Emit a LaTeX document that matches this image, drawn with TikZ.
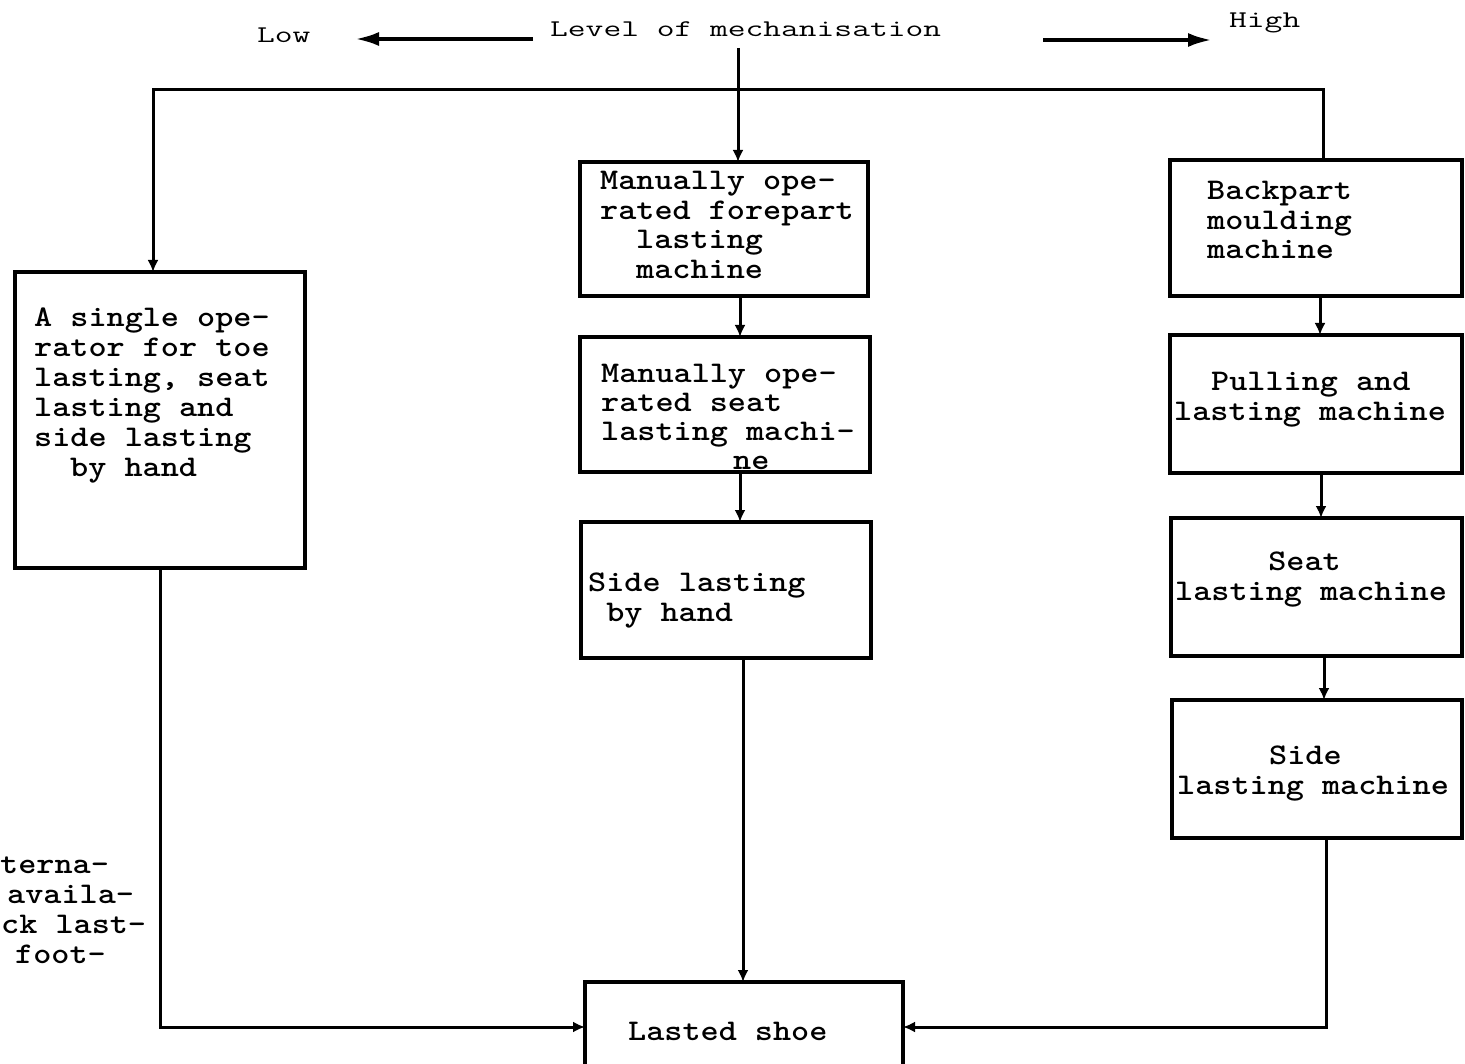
\documentclass[tikz,border=0pt]{standalone}
\usepackage{fontspec}
\usepackage{graphicx}
\usetikzlibrary{arrows.meta}
\newcommand{\ml}[2][30]{\scalebox{1.15}[1]{\fontsize{30}{#1}\selectfont\addfontfeature{FakeBold=1.2}\begin{tabular}[t]{@{}l@{}}#2\end{tabular}}}
\newcommand{\hd}[1]{\scalebox{1.15}[0.8]{\fontsize{30}{30}\selectfont\addfontfeature{FakeBold=1}#1}}
\newcommand{\ind}[1]{\hspace*{#1}}
\begin{document}
\begin{tikzpicture}[x=1pt,y=-1pt,
  box/.style={draw,line width=3.2pt,inner sep=0pt,outer sep=0pt},
  txt/.style={font=\ttfamily\bfseries,inner sep=0pt,anchor=base west},
  hdr/.style={font=\ttfamily,inner sep=0pt,anchor=base west},
  conn/.style={line width=3pt},
  arr/.style={conn,-{Latex[length=12pt,width=11pt]}},
  harr/.style={line width=4pt,-{Latex[length=24pt,width=14pt]}}]
\useasboundingbox (0,0) rectangle (1465,1064);
\clip (0,0) rectangle (1465,1064);

% header
\node[hdr] (low) at (257,43) {\hd{Low}};
\node[hdr] (lvl) at (550,37) {\hd{Level of mechanisation}};
\node[hdr] (high) at (1229,28) {\hd{High}};
\coordinate (la1) at (533,39);
\coordinate (la2) at (355,39);
\coordinate (ha1) at (1043,40);
\coordinate (ha2) at (1212,40);
\draw[harr] (la1) -- (la2);
\draw[harr] (ha1) -- (ha2);

% boxes
\node[box,minimum width=290pt,minimum height=296pt] (L) at (160,420) {};
\node[box,minimum width=288pt,minimum height=134pt] (M1) at (724,229) {};
\node[box,minimum width=290pt,minimum height=135pt] (M2) at (725,404.5) {};
\node[box,minimum width=290pt,minimum height=136pt] (M3) at (726,590) {};
\node[box,minimum width=318pt,minimum height=90pt] (B) at (744,1027) {};
\node[box,minimum width=292pt,minimum height=136pt] (R1) at (1316,228) {};
\node[box,minimum width=292pt,minimum height=138pt] (R2) at (1316,404) {};
\node[box,minimum width=291pt,minimum height=138pt] (R3) at (1316.5,587) {};
\node[box,minimum width=290pt,minimum height=138pt] (R4) at (1317,769) {};

% texts
\node[txt] (tL) at (34,327) {\ml{A single ope-\\rator for toe\\lasting, seat\\lasting and\\side lasting\\\ind{31.3pt}by hand}};
\node[txt] (tM1) at (600,190) {\ml[29.5]{Manually ope-\\rated forepart\\\ind{31.3pt}lasting\\\ind{31.3pt}machine}};
\node[txt] (tM2) at (601,383) {\ml[29]{Manually ope-\\rated seat\\lasting machi-\\\ind{114.8pt}ne}};
\node[txt] (tM3) at (588,591) {\ml{Side lasting\\\ind{15.7pt}by hand}};
\node[txt] (tB) at (628,1040) {\ml{Lasted shoe}};
\node[txt] (tR1) at (1207,200) {\ml[29.5]{Backpart\\moulding\\machine}};
\node[txt] (tR2) at (1174,391) {\ml{\ind{32.2pt}Pulling and\\lasting machine}};
\node[txt] (tR3) at (1175,570) {\ml{\ind{81pt}Seat\\lasting machine}};
\node[txt] (tR4) at (1177,764) {\ml{\ind{80pt}Side\\lasting machine}};

% cut-off note at the left edge
\node[txt] (n1) at (0,873) {\ml{terna-}};
\node[txt] (n2) at (7,903) {\ml{availa-}};
\node[txt] (n3) at (1,933) {\ml{ck last-}};
\node[txt] (n4) at (15,963) {\ml{foot-}};

% connectors
\coordinate (top) at (738,48);
\coordinate (hl) at (153,90);
\coordinate (hr) at (1323,90);
\coordinate (cm) at (740,0);
\coordinate (cmb) at (743,0);
\coordinate (cl) at (160,0);
\coordinate (cr1) at (1320,0);
\coordinate (cr2) at (1321,0);
\coordinate (cr3) at (1324,0);
\coordinate (cr4) at (1326,0);

\draw[arr] (top) -- (top |- M1.north);
\draw[arr] (hr |- R1.north) -- (hr) -- (hl) -- (hl |- L.north);
\draw[arr] (cm |- M1.south) -- (cm |- M2.north);
\draw[arr] (cm |- M2.south) -- (cm |- M3.north);
\draw[arr] (cmb |- M3.south) -- (cmb |- B.north);
\draw[arr] (cr1 |- R1.south) -- (cr1 |- R2.north);
\draw[arr] (cr2 |- R2.south) -- (cr2 |- R3.north);
\draw[arr] (cr3 |- R3.south) -- (cr3 |- R4.north);
\draw[arr] (cl |- L.south) -- (cl |- B.west) -- (B.west);
\draw[arr] (cr4 |- R4.south) -- (cr4 |- B.east) -- (B.east);
\end{tikzpicture}
\end{document}
